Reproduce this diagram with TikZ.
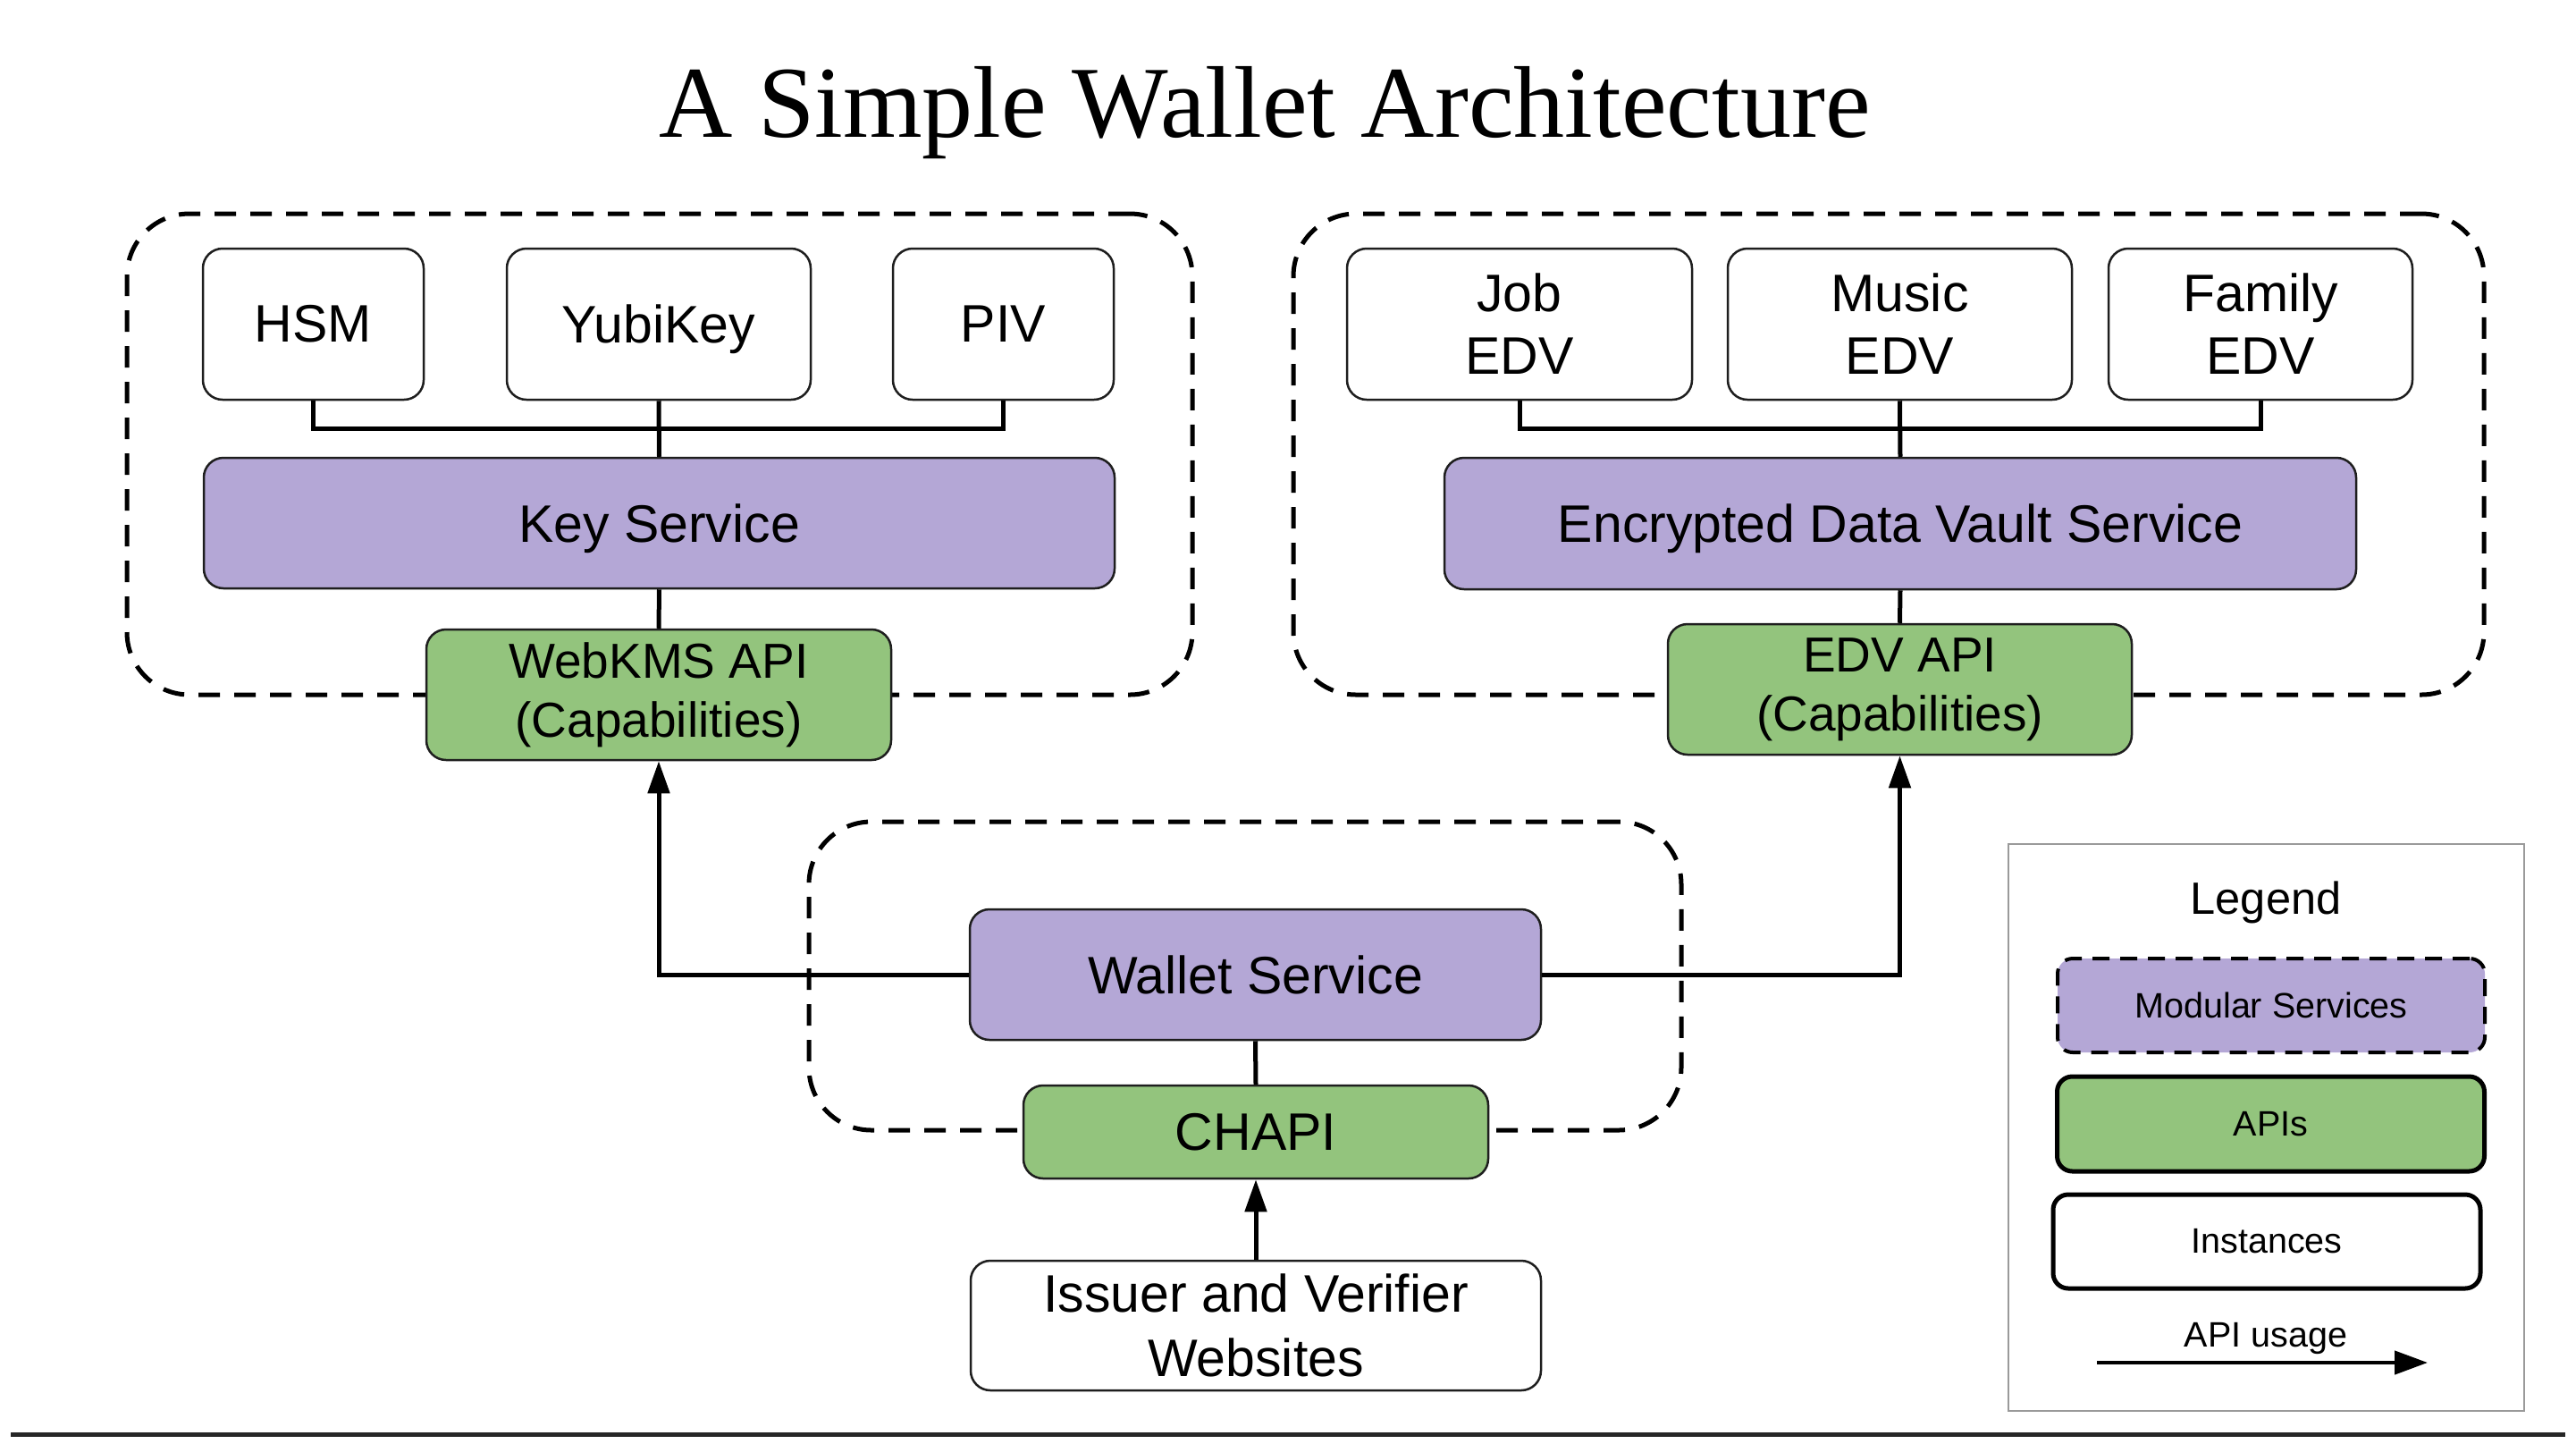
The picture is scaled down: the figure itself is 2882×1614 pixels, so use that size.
\documentclass[tikz,border=0pt]{standalone}
\usepackage{fontspec}
\setmainfont{Liberation Sans}
\newfontfamily\titlefont{Liberation Serif}
\usetikzlibrary{arrows.meta,fit,calc}
\definecolor{svc}{HTML}{B4A7D6}
\definecolor{apic}{HTML}{93C47D}
\definecolor{edgec}{HTML}{1E1E1E}
\definecolor{legc}{HTML}{9A9A9A}
\begin{document}
\begin{tikzpicture}[x=0.5pt,y=-0.5pt,
 box/.style={draw=edgec, line width=1.25pt, rounded corners=11pt, inner sep=0pt, align=center, font=\fontsize{29.5}{35}\selectfont},
 inst/.style={box, fill=white},
 svcbox/.style={box, fill=svc},
 apibox/.style={box, fill=apic, font=\fontsize{27.5}{33}\selectfont},
 nodepth/.style={text depth=0pt},
 group/.style={draw=black, line width=2.5pt, dash pattern=on 12pt off 8pt, rounded corners=35pt, inner sep=0pt},
 conn/.style={draw=black, line width=2.5pt},
 arr/.style={conn, -{Triangle[length=18pt,width=12pt]}},
 legtext/.style={font=\fontsize{19.75}{24}\selectfont, inner sep=0pt, align=center},
 legbx/.style={legtext, draw=black, line width=2.5pt, rounded corners=8.5pt, minimum width=239pt, minimum height=52.5pt},
]
\useasboundingbox (0,0) rectangle (2882,1614);

% title
\node[font=\titlefont\fontsize{57}{68}\selectfont, anchor=base, inner sep=0pt] (title) at (1415,153) {A Simple Wallet Architecture};

% groups
\node[group, fit={(142,239) (1334,777)}] (lgrp) {};
\node[group, fit={(1447,239) (2779,777)}] (rgrp) {};
\node[group, fit={(905,919) (1881,1264)}] (mgrp) {};

% left column
\node[inst, minimum width=123.5pt, minimum height=84.5pt] (hsm) at (350.5,362.5) {HSM};
\node[inst, nodepth, minimum width=170pt, minimum height=84.5pt] (yubi) at (737,362.5) {YubiKey};
\node[inst, minimum width=123.5pt, minimum height=84.5pt] (piv) at (1122.5,362.5) {PIV};
\node[svcbox, nodepth, minimum width=509.5pt, minimum height=73pt] (ks) at (737.5,585) {Key Service};
\node[apibox, minimum width=260pt, minimum height=73pt] (webkms) at (737,777) {WebKMS API\\(Capabilities)};

% right column
\node[inst, minimum width=193pt, minimum height=84.5pt] (job) at (1700,362.5) {Job\\EDV};
\node[inst, minimum width=192.5pt, minimum height=84.5pt] (music) at (2125.5,362.5) {Music\\EDV};
\node[inst, minimum width=170pt, minimum height=84.5pt] (family) at (2529,362.5) {Family\\EDV};
\node[svcbox, nodepth, minimum width=510pt, minimum height=73.5pt] (edvs) at (2126,585.5) {Encrypted Data Vault Service};
\node[apibox, minimum width=259.5pt, minimum height=73pt] (edvapi) at (2125.5,771) {EDV API\\(Capabilities)};

% middle
\node[svcbox, minimum width=319.5pt, minimum height=73pt] (wallet) at (1404.5,1090) {Wallet Service};
\node[apibox, minimum width=260pt, minimum height=52pt, font=\fontsize{29.5}{35}\selectfont] (chapi) at (1405,1266) {CHAPI};
\node[inst, minimum width=319pt, minimum height=72.5pt, font=\fontsize{29.5}{36}\selectfont] (issuer) at (1405,1482.5) {Issuer and Verifier\\Websites};

% connectors left
\draw[conn] (hsm.south) |- ($(yubi.south)!0.5!(ks.north)$) -| (piv.south);
\draw[conn] (yubi.south) -- (ks.north);
\draw[conn] (ks.south) -- (webkms.north);
% connectors right
\draw[conn] (job.south) |- ($(music.south)!0.5!(edvs.north)$) -| (family.south);
\draw[conn] (music.south) -- (edvs.north);
\draw[conn] (edvs.south) -- (edvapi.north);
% middle connectors
\draw[arr] (wallet.west) -| (webkms.south);
\draw[arr] (wallet.east) -| (edvapi.south);
\draw[conn] (wallet.south) -- (chapi.north);
\draw[arr] (issuer.north) -- (chapi.south);

% legend
\node[draw=legc, line width=1.1pt, inner sep=0pt, fit={(2247,944) (2824,1578)}] (legbox) {};
\node[font=\fontsize{25.3}{30}\selectfont, inner sep=0pt, nodepth] (legtitle) at (2535,1004) {Legend};
\node[legbx, fill=svc, line width=2pt, dash pattern=on 9.5pt off 6pt] (legsvc) at (2541,1124.5) {Modular Services};
\node[legbx, fill=apic, minimum height=53pt] (legapi) at (2540.5,1257) {APIs};
\node[legbx, fill=white] (leginst) at (2536,1388.5) {Instances};
\node[legtext, nodepth] (legusage) at (2535,1493) {API usage};
\coordinate (la) at (2346,1524);
\coordinate (lb) at (2716,1524);
\draw[line width=2.2pt, -{Triangle[length=18.5pt,width=13pt]}] (la) -- (lb);

% bottom rule
\draw[line width=2.5pt, black!85] (12,1604) -- (2870,1604);
\end{tikzpicture}
\end{document}
